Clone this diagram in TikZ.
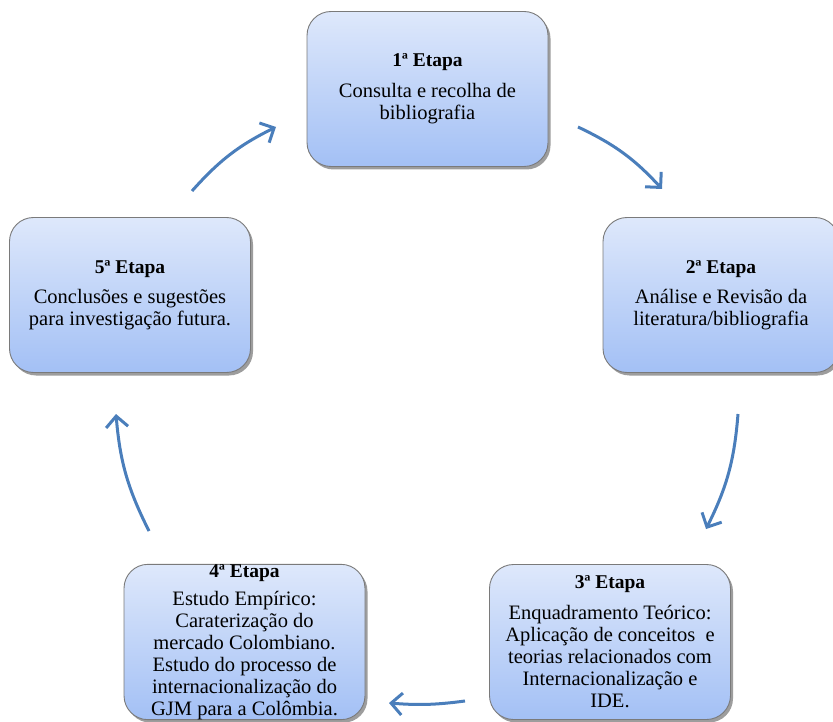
\documentclass[tikz,border=0pt]{standalone}
\usepackage{fontspec}
\setmainfont{Liberation Serif}
\usetikzlibrary{arrows.meta,shadows}
\definecolor{boxtop}{HTML}{DEE8FB}
\definecolor{boxbot}{HTML}{A3C0F5}
\definecolor{boxline}{HTML}{7A7A7A}
\definecolor{arrowblue}{HTML}{4A7EBB}
\tikzset{
  stepbox/.style={draw=boxline, line width=0.9pt, rounded corners=24pt,
    top color=boxtop, bottom color=boxbot,
    minimum width=#1, minimum height=155pt, inner sep=0pt,
    align=center, font=\fontsize{20.5}{22}\selectfont,
    drop shadow={shadow xshift=2.5pt, shadow yshift=-3pt, opacity=0.55, fill=black!70}},
  stepbox/.default=241pt,
  cyc/.style={draw=arrowblue, line width=3pt,
    -{Straight Barb[length=11pt,width=22pt,line width=3pt]}}
}
\newcommand{\etapa}[1]{{\fontsize{19.5}{22}\selectfont\bfseries #1}}
\begin{document}
\begin{tikzpicture}[x=1pt,y=-1pt]
\useasboundingbox (0,0) rectangle (833,722);
\begin{scope}
\clip (0,0) rectangle (833,722);
\node[stepbox] (e1) at (427.5,89) {\etapa{1ª Etapa}\\[9pt]Consulta e recolha de\\bibliografia};
\node[stepbox=236pt] (e2) at (721,295) {\etapa{2ª Etapa}\\[8pt]Análise e Revisão da\\literatura/bibliografia};
\node[stepbox] (e5) at (130,295) {\etapa{5ª Etapa}\\[8pt]Conclusões e sugestões\\para investigação futura.};
\node[stepbox] (e3) at (610,642) {\etapa{3ª Etapa}\\[9pt]Enquadramento Teórico:\\Aplicação de conceitos\ \ e\\teorias relacionados com\\Internacionalização e\\IDE.};
\node[stepbox] (e4) at (244.5,642) {\etapa{4ª Etapa}\\[6pt]Estudo Empírico:\\Caraterização do\\mercado Colombiano.\\Estudo do processo de\\internacionalização do\\GJM para a Colômbia.};
\end{scope}
\coordinate (a1s) at (578,127);
\coordinate (a1e) at (662,189);
\coordinate (a2s) at (738,414);
\coordinate (a2e) at (706,529);
\coordinate (a3s) at (465,701);
\coordinate (a3e) at (389,703);
\coordinate (a4s) at (149,531);
\coordinate (a4e) at (116,414);
\coordinate (a5s) at (192,191);
\coordinate (a5e) at (276,127);
\draw[cyc] (a1s) to[bend left=11] (a1e);
\draw[cyc] (a2s) to[bend left=11] (a2e);
\draw[cyc] (a3s) to[bend left=6] (a3e);
\draw[cyc] (a4s) to[bend left=11] (a4e);
\draw[cyc] (a5s) to[bend left=11] (a5e);
\end{tikzpicture}
\end{document}
